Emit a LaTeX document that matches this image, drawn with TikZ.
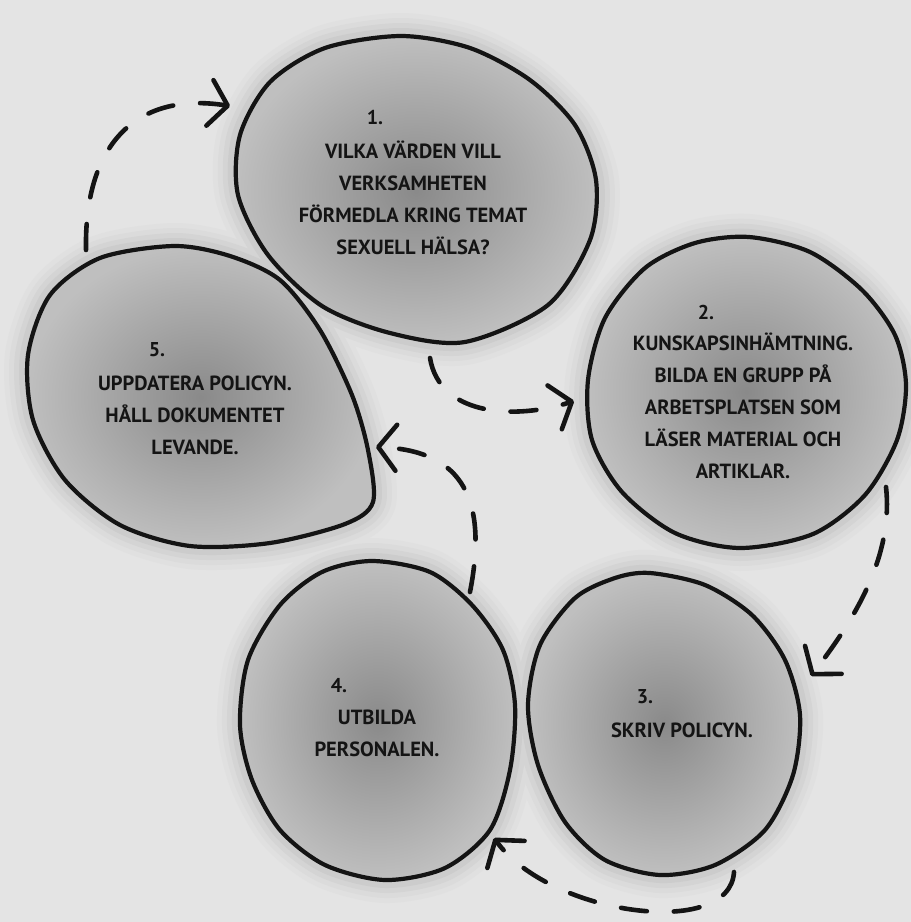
\documentclass[tikz,border=0pt]{standalone}
\usepackage{fontspec}
\setmainfont{PT Sans}
\usepackage{tikz}
\usetikzlibrary{arrows.meta}

\definecolor{paper}{gray}{0.895}

% outlines of the five bubbles (pixel grid, y downwards)
\newcommand\blobone{plot[smooth cycle] coordinates {(401,36) (470,48) (530,80) (575,125) (596,180) (590,240) (548,305) (465,342) (390,333) (322,306) (268,255) (238,195) (240,135) (270,82) (325,48)}}
\newcommand\blobtwo{plot[smooth cycle] coordinates {(749,237) (810,252) (862,290) (895,335) (906,385) (897,440) (865,495) (813,534) (740,548) (675,533) (622,492) (592,440) (588,380) (605,318) (645,268) (695,243)}}
\newcommand\blobthree{plot[smooth cycle] coordinates {(650,573) (705,585) (752,615) (785,660) (800,715) (793,775) (765,830) (715,865) (660,875) (605,860) (565,822) (538,765) (528,705) (540,645) (575,598) (615,578)}}
\newcommand\blobfour{plot[smooth cycle] coordinates {(372,561) (430,572) (472,605) (503,650) (515,705) (510,770) (490,830) (445,868) (385,880) (325,865) (280,830) (252,780) (240,725) (248,660) (280,605) (322,572)}}
\newcommand\blobfive{plot[smooth cycle] coordinates {(174,246) (230,256) (280,280) (320,330) (352,395) (368,450) (373,502) (345,524) (270,543) (190,546) (120,525) (65,480) (33,420) (28,355) (50,295) (100,258)}}

\begin{document}
\begin{tikzpicture}[
    x=1pt, y=-1pt,
    halo/.style={draw=black!#1, line join=round},
    bubble/.style={draw=black!92, line width=4.2pt, inner color=black!46, outer color=black!25},
    num/.style={font=\fontsize{20}{22}\selectfont\bfseries, text=black!92},
    txt/.style={font=\fontsize{20.5}{32}\selectfont\bfseries, align=center, text=black!92},
    arr/.style={draw=black!92, line width=4.6pt, line cap=round, dash pattern=on 26pt off 27pt,
                -{Straight Barb[length=18pt, width=46pt, round]}},
]
\fill[paper] (0,0) rectangle (911,922);
\useasboundingbox (0,0) rectangle (911,922);

% soft smudge round every bubble
\foreach \w/\g in {46/12,36/14,26/17,16/20}
  \foreach \b in {\blobone,\blobtwo,\blobthree,\blobfour,\blobfive}
    \path[halo=\g, line width=\w pt] \b;

\shade[bubble] \blobone;
\shade[bubble] \blobtwo;
\shade[bubble] \blobthree;
\shade[bubble] \blobfour;
\shade[bubble] \blobfive;

\node[num] (n1) at (375,117) {1.};
\node[txt] (t1) at (413,198) {VILKA VÄRDEN VILL\\VERKSAMHETEN\\FÖRMEDLA KRING TEMAT\\SEXUELL HÄLSA?};
\node[num] (n2) at (706,312) {2.};
\node[txt] (t2) at (743,406) {KUNSKAPSINHÄMTNING.\\BILDA EN GRUPP PÅ\\ARBETSPLATSEN SOM\\LÄSER MATERIAL OCH\\ARTIKLAR.};
\node[num] (n3) at (645,697) {3.};
\node[txt] (t3) at (682,730) {SKRIV POLICYN.};
\node[num] (n4) at (339,686) {4.};
\node[txt] (t4) at (377,733) {UTBILDA\\PERSONALEN.};
\node[num] (n5) at (157,350) {5.};
\node[txt] (t5) at (195,415) {UPPDATERA POLICYN.\\HÅLL DOKUMENTET\\LEVANDE.};

% dashed loop between the bubbles
\coordinate (c51s) at (86,250);  \coordinate (c51e) at (230,106);
\coordinate (c12s) at (430,358); \coordinate (c12e) at (574,401);
\coordinate (c23s) at (886,487); \coordinate (c23e) at (811,676);
\coordinate (c34s) at (734,872); \coordinate (c34e) at (494,838);
\coordinate (c45s) at (470,592); \coordinate (c45e) at (376,447);

\draw[arr] (c51s) .. controls +(-2,-110) and +(-90,-14) .. (c51e);
\draw[arr] (c12s) .. controls +(10,60) and +(-55,18) .. (c12e);
\draw[arr] (c23s) .. controls +(8,73) and +(39,-51) .. (c23e);
\draw[arr] (c34s) .. controls +(-4,68) and +(56,77) .. (c34e);
\draw[arr] (c45s) .. controls +(20,-102) and +(79,3) .. (c45e);
\end{tikzpicture}
\end{document}
